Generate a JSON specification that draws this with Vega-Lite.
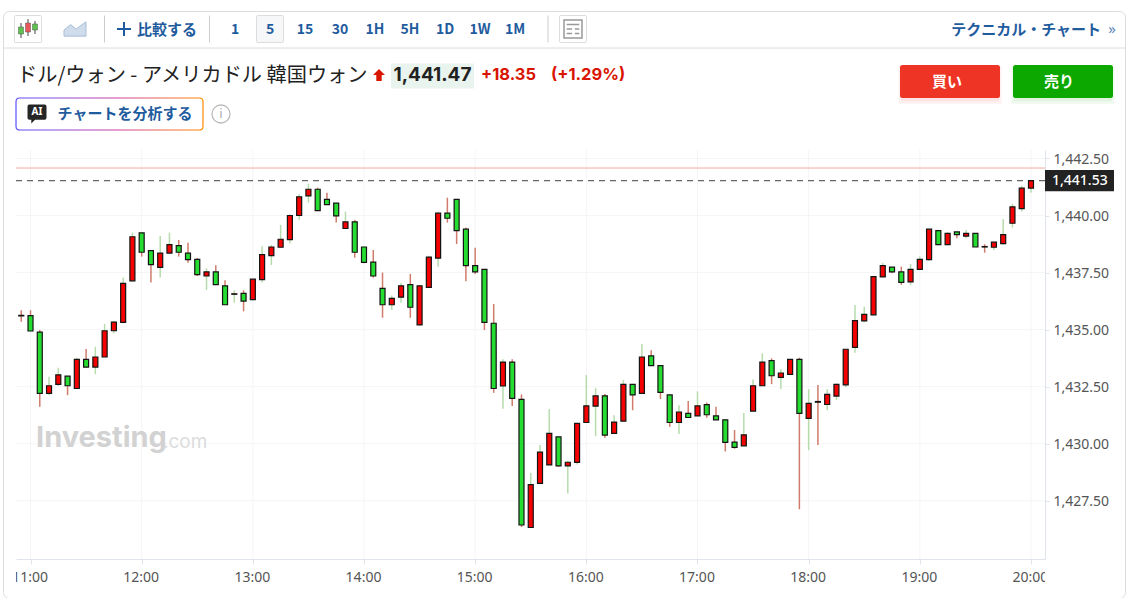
{"$schema":"https://vega.github.io/schema/vega-lite/v6.json","width":1122,"height":587,"padding":{"left":3,"top":11,"right":3,"bottom":0},"autosize":{"type":"none"},"background":"white","config":{"view":{"stroke":"#dcdcdc","cornerRadius":6},"font":"Noto Sans"},"datasets":{"candles":[
{"time":"2024-01-01T10:55:00Z","open":1435.62,"high":1435.85,"low":1435.35,"close":1435.60},
{"time":"2024-01-01T11:00:00Z","open":1435.61,"high":1435.85,"low":1434.94,"close":1434.94},
{"time":"2024-01-01T11:05:00Z","open":1434.89,"high":1434.98,"low":1431.62,"close":1432.21},
{"time":"2024-01-01T11:10:00Z","open":1432.21,"high":1432.93,"low":1432.13,"close":1432.54},
{"time":"2024-01-01T11:15:00Z","open":1432.60,"high":1433.33,"low":1432.53,"close":1433.02},
{"time":"2024-01-01T11:20:00Z","open":1432.96,"high":1432.96,"low":1432.13,"close":1432.54},
{"time":"2024-01-01T11:25:00Z","open":1432.42,"high":1433.77,"low":1432.42,"close":1433.70},
{"time":"2024-01-01T11:30:00Z","open":1433.70,"high":1434.15,"low":1433.34,"close":1433.36},
{"time":"2024-01-01T11:35:00Z","open":1433.36,"high":1434.25,"low":1433.05,"close":1433.80},
{"time":"2024-01-01T11:40:00Z","open":1433.80,"high":1435.25,"low":1433.80,"close":1434.95},
{"time":"2024-01-01T11:45:00Z","open":1434.95,"high":1435.39,"low":1434.84,"close":1435.33},
{"time":"2024-01-01T11:50:00Z","open":1435.32,"high":1437.28,"low":1435.28,"close":1437.03},
{"time":"2024-01-01T11:55:00Z","open":1437.14,"high":1439.25,"low":1437.10,"close":1439.07},
{"time":"2024-01-01T12:00:00Z","open":1439.24,"high":1439.24,"low":1438.20,"close":1438.39},
{"time":"2024-01-01T12:05:00Z","open":1438.46,"high":1438.49,"low":1437.06,"close":1437.85},
{"time":"2024-01-01T12:10:00Z","open":1437.73,"high":1439.10,"low":1437.28,"close":1438.35},
{"time":"2024-01-01T12:15:00Z","open":1438.35,"high":1439.25,"low":1438.35,"close":1438.72},
{"time":"2024-01-01T12:20:00Z","open":1438.68,"high":1438.93,"low":1438.20,"close":1438.39},
{"time":"2024-01-01T12:25:00Z","open":1438.35,"high":1438.81,"low":1437.93,"close":1438.07},
{"time":"2024-01-01T12:30:00Z","open":1438.08,"high":1438.14,"low":1437.35,"close":1437.41},
{"time":"2024-01-01T12:35:00Z","open":1437.35,"high":1437.69,"low":1436.74,"close":1437.53},
{"time":"2024-01-01T12:40:00Z","open":1437.53,"high":1437.82,"low":1436.96,"close":1436.97},
{"time":"2024-01-01T12:45:00Z","open":1436.92,"high":1437.16,"low":1436.08,"close":1436.09},
{"time":"2024-01-01T12:50:00Z","open":1436.55,"high":1436.72,"low":1436.18,"close":1436.57},
{"time":"2024-01-01T12:55:00Z","open":1436.59,"high":1436.72,"low":1435.80,"close":1436.25},
{"time":"2024-01-01T13:00:00Z","open":1436.31,"high":1437.21,"low":1436.29,"close":1437.21},
{"time":"2024-01-01T13:05:00Z","open":1437.19,"high":1438.65,"low":1437.06,"close":1438.29},
{"time":"2024-01-01T13:10:00Z","open":1438.24,"high":1438.71,"low":1437.83,"close":1438.62},
{"time":"2024-01-01T13:15:00Z","open":1438.61,"high":1439.59,"low":1438.58,"close":1438.96},
{"time":"2024-01-01T13:20:00Z","open":1438.94,"high":1440.06,"low":1438.77,"close":1440.00},
{"time":"2024-01-01T13:25:00Z","open":1440.00,"high":1440.93,"low":1439.81,"close":1440.82},
{"time":"2024-01-01T13:30:00Z","open":1440.86,"high":1441.39,"low":1440.57,"close":1441.15},
{"time":"2024-01-01T13:35:00Z","open":1441.15,"high":1441.22,"low":1440.21,"close":1440.21},
{"time":"2024-01-01T13:40:00Z","open":1440.71,"high":1441.00,"low":1440.48,"close":1440.48},
{"time":"2024-01-01T13:45:00Z","open":1440.54,"high":1440.54,"low":1439.69,"close":1439.98},
{"time":"2024-01-01T13:50:00Z","open":1439.43,"high":1440.17,"low":1439.43,"close":1439.72},
{"time":"2024-01-01T13:55:00Z","open":1439.72,"high":1439.81,"low":1438.15,"close":1438.39},
{"time":"2024-01-01T14:00:00Z","open":1438.62,"high":1438.62,"low":1437.91,"close":1437.95},
{"time":"2024-01-01T14:05:00Z","open":1437.96,"high":1438.49,"low":1437.28,"close":1437.35},
{"time":"2024-01-01T14:10:00Z","open":1436.81,"high":1437.50,"low":1435.52,"close":1436.09},
{"time":"2024-01-01T14:15:00Z","open":1436.09,"high":1436.50,"low":1435.86,"close":1436.37},
{"time":"2024-01-01T14:20:00Z","open":1436.42,"high":1437.04,"low":1436.18,"close":1436.92},
{"time":"2024-01-01T14:25:00Z","open":1436.97,"high":1437.44,"low":1435.52,"close":1435.98},
{"time":"2024-01-01T14:30:00Z","open":1435.21,"high":1436.96,"low":1435.18,"close":1436.92},
{"time":"2024-01-01T14:35:00Z","open":1436.85,"high":1438.24,"low":1436.85,"close":1438.18},
{"time":"2024-01-01T14:40:00Z","open":1438.13,"high":1440.14,"low":1437.76,"close":1440.10},
{"time":"2024-01-01T14:45:00Z","open":1440.10,"high":1440.78,"low":1439.69,"close":1439.88},
{"time":"2024-01-01T14:50:00Z","open":1440.71,"high":1440.71,"low":1438.75,"close":1439.34},
{"time":"2024-01-01T14:55:00Z","open":1439.40,"high":1439.47,"low":1437.12,"close":1437.80},
{"time":"2024-01-01T15:00:00Z","open":1437.80,"high":1438.59,"low":1437.44,"close":1437.53},
{"time":"2024-01-01T15:05:00Z","open":1437.64,"high":1437.64,"low":1434.98,"close":1435.32},
{"time":"2024-01-01T15:10:00Z","open":1435.28,"high":1436.12,"low":1432.23,"close":1432.42},
{"time":"2024-01-01T15:15:00Z","open":1432.53,"high":1433.70,"low":1431.53,"close":1433.58},
{"time":"2024-01-01T15:20:00Z","open":1433.58,"high":1433.70,"low":1431.65,"close":1431.99},
{"time":"2024-01-01T15:25:00Z","open":1431.94,"high":1432.16,"low":1426.35,"close":1426.44},
{"time":"2024-01-01T15:30:00Z","open":1426.33,"high":1428.72,"low":1426.33,"close":1428.21},
{"time":"2024-01-01T15:35:00Z","open":1428.26,"high":1429.94,"low":1428.26,"close":1429.63},
{"time":"2024-01-01T15:40:00Z","open":1429.07,"high":1431.52,"low":1429.07,"close":1430.45},
{"time":"2024-01-01T15:45:00Z","open":1430.30,"high":1430.30,"low":1428.99,"close":1429.03},
{"time":"2024-01-01T15:50:00Z","open":1429.03,"high":1429.25,"low":1427.82,"close":1429.19},
{"time":"2024-01-01T15:55:00Z","open":1429.18,"high":1430.89,"low":1429.09,"close":1430.89},
{"time":"2024-01-01T16:00:00Z","open":1430.93,"high":1433.01,"low":1430.93,"close":1431.66},
{"time":"2024-01-01T16:05:00Z","open":1431.65,"high":1432.45,"low":1430.33,"close":1432.10},
{"time":"2024-01-01T16:10:00Z","open":1432.10,"high":1432.18,"low":1430.26,"close":1430.38},
{"time":"2024-01-01T16:15:00Z","open":1430.45,"high":1431.25,"low":1430.45,"close":1430.95},
{"time":"2024-01-01T16:20:00Z","open":1430.99,"high":1432.79,"low":1430.99,"close":1432.60},
{"time":"2024-01-01T16:25:00Z","open":1432.60,"high":1432.60,"low":1431.47,"close":1432.14},
{"time":"2024-01-01T16:30:00Z","open":1432.21,"high":1434.37,"low":1432.21,"close":1433.80},
{"time":"2024-01-01T16:35:00Z","open":1433.85,"high":1434.10,"low":1433.42,"close":1433.42},
{"time":"2024-01-01T16:40:00Z","open":1433.42,"high":1433.42,"low":1431.96,"close":1432.25},
{"time":"2024-01-01T16:45:00Z","open":1432.14,"high":1432.14,"low":1430.74,"close":1430.93},
{"time":"2024-01-01T16:50:00Z","open":1430.93,"high":1431.69,"low":1430.43,"close":1431.39},
{"time":"2024-01-01T16:55:00Z","open":1431.33,"high":1431.87,"low":1431.15,"close":1431.15},
{"time":"2024-01-01T17:00:00Z","open":1431.22,"high":1432.29,"low":1431.22,"close":1431.66},
{"time":"2024-01-01T17:05:00Z","open":1431.71,"high":1431.81,"low":1431.14,"close":1431.27},
{"time":"2024-01-01T17:10:00Z","open":1431.22,"high":1431.62,"low":1431.05,"close":1431.05},
{"time":"2024-01-01T17:15:00Z","open":1431.05,"high":1431.05,"low":1429.66,"close":1430.06},
{"time":"2024-01-01T17:20:00Z","open":1430.07,"high":1430.60,"low":1429.78,"close":1429.84},
{"time":"2024-01-01T17:25:00Z","open":1429.91,"high":1431.35,"low":1429.91,"close":1430.39},
{"time":"2024-01-01T17:30:00Z","open":1431.43,"high":1432.82,"low":1431.43,"close":1432.54},
{"time":"2024-01-01T17:35:00Z","open":1432.54,"high":1433.96,"low":1432.54,"close":1433.58},
{"time":"2024-01-01T17:40:00Z","open":1433.64,"high":1433.74,"low":1432.61,"close":1432.98},
{"time":"2024-01-01T17:45:00Z","open":1432.91,"high":1433.26,"low":1432.39,"close":1433.10},
{"time":"2024-01-01T17:50:00Z","open":1433.04,"high":1433.70,"low":1433.04,"close":1433.70},
{"time":"2024-01-01T17:55:00Z","open":1433.70,"high":1433.77,"low":1427.13,"close":1431.33},
{"time":"2024-01-01T18:00:00Z","open":1431.11,"high":1432.39,"low":1429.72,"close":1431.77},
{"time":"2024-01-01T18:05:00Z","open":1431.85,"high":1432.57,"low":1429.94,"close":1431.82},
{"time":"2024-01-01T18:10:00Z","open":1431.72,"high":1432.39,"low":1431.47,"close":1432.16},
{"time":"2024-01-01T18:15:00Z","open":1432.09,"high":1432.64,"low":1431.91,"close":1432.60},
{"time":"2024-01-01T18:20:00Z","open":1432.58,"high":1434.14,"low":1432.47,"close":1434.14},
{"time":"2024-01-01T18:25:00Z","open":1434.22,"high":1436.08,"low":1433.99,"close":1435.39},
{"time":"2024-01-01T18:30:00Z","open":1435.38,"high":1436.00,"low":1435.32,"close":1435.67},
{"time":"2024-01-01T18:35:00Z","open":1435.65,"high":1437.32,"low":1435.61,"close":1437.32},
{"time":"2024-01-01T18:40:00Z","open":1437.31,"high":1437.93,"low":1437.31,"close":1437.80},
{"time":"2024-01-01T18:45:00Z","open":1437.74,"high":1437.74,"low":1437.47,"close":1437.53},
{"time":"2024-01-01T18:50:00Z","open":1437.53,"high":1437.76,"low":1436.96,"close":1437.07},
{"time":"2024-01-01T18:55:00Z","open":1437.09,"high":1437.88,"low":1436.96,"close":1437.64},
{"time":"2024-01-01T19:00:00Z","open":1437.64,"high":1438.20,"low":1437.64,"close":1438.08},
{"time":"2024-01-01T19:05:00Z","open":1438.07,"high":1439.40,"low":1438.01,"close":1439.40},
{"time":"2024-01-01T19:10:00Z","open":1439.34,"high":1439.34,"low":1438.70,"close":1438.72},
{"time":"2024-01-01T19:15:00Z","open":1438.72,"high":1439.27,"low":1438.70,"close":1439.22},
{"time":"2024-01-01T19:20:00Z","open":1439.28,"high":1439.28,"low":1439.00,"close":1439.16},
{"time":"2024-01-01T19:25:00Z","open":1439.10,"high":1439.37,"low":1439.00,"close":1439.22},
{"time":"2024-01-01T19:30:00Z","open":1439.22,"high":1439.22,"low":1438.62,"close":1438.62},
{"time":"2024-01-01T19:35:00Z","open":1438.64,"high":1438.74,"low":1438.37,"close":1438.62},
{"time":"2024-01-01T19:40:00Z","open":1438.61,"high":1438.85,"low":1438.49,"close":1438.83},
{"time":"2024-01-01T19:45:00Z","open":1438.77,"high":1439.85,"low":1438.72,"close":1439.16},
{"time":"2024-01-01T19:50:00Z","open":1439.66,"high":1440.51,"low":1439.47,"close":1440.38},
{"time":"2024-01-01T19:55:00Z","open":1440.30,"high":1441.30,"low":1440.17,"close":1441.20},
{"time":"2024-01-01T20:00:00Z","open":1441.20,"high":1441.56,"low":1441.00,"close":1441.53}
],"levels":[
{"level":"prev","price":1442.08,"from":"2024-01-01T10:52:10Z","to":"2024-01-01T20:07:34Z","label":"1,442.08"},
{"level":"last","price":1441.53,"from":"2024-01-01T10:52:10Z","to":"2024-01-01T20:07:34Z","label":"1,441.53"}
],"gridPrices":[
{"price":1427.5,"from":"2024-01-01T10:52:10Z","to":"2024-01-01T20:07:34Z"},
{"price":1430,"from":"2024-01-01T10:52:10Z","to":"2024-01-01T20:07:34Z"},
{"price":1432.5,"from":"2024-01-01T10:52:10Z","to":"2024-01-01T20:07:34Z"},
{"price":1435,"from":"2024-01-01T10:52:10Z","to":"2024-01-01T20:07:34Z"},
{"price":1437.5,"from":"2024-01-01T10:52:10Z","to":"2024-01-01T20:07:34Z"},
{"price":1440,"from":"2024-01-01T10:52:10Z","to":"2024-01-01T20:07:34Z"},
{"price":1442.5,"from":"2024-01-01T10:52:10Z","to":"2024-01-01T20:07:34Z"}
],"gridHours":[
{"time":"2024-01-01T11:00:00Z","bottom":1424.95,"top":1442.87},
{"time":"2024-01-01T12:00:00Z","bottom":1424.95,"top":1442.87},
{"time":"2024-01-01T13:00:00Z","bottom":1424.95,"top":1442.87},
{"time":"2024-01-01T14:00:00Z","bottom":1424.95,"top":1442.87},
{"time":"2024-01-01T15:00:00Z","bottom":1424.95,"top":1442.87},
{"time":"2024-01-01T16:00:00Z","bottom":1424.95,"top":1442.87},
{"time":"2024-01-01T17:00:00Z","bottom":1424.95,"top":1442.87},
{"time":"2024-01-01T18:00:00Z","bottom":1424.95,"top":1442.87},
{"time":"2024-01-01T19:00:00Z","bottom":1424.95,"top":1442.87},
{"time":"2024-01-01T20:00:00Z","bottom":1424.95,"top":1442.87}
]},
"resolve":{"scale":{"x":"independent","y":"independent"}},
"layer":[
{"layer":[
{"data":{"name":"gridHours"},"mark":{"type":"rule","stroke":"#f5f5f8","strokeWidth":1},"encoding":{"x":{"field":"time","type":"temporal","scale":{"type":"utc","domain":[1704106330000,1704139654000],"range":[13,1042],"nice":false,"padding":0},"axis":{"orient":"bottom","offset":-39,"title":null,"format":"%H:%M","values":[1704106800000,1704110400000,1704114000000,1704117600000,1704121200000,1704124800000,1704128400000,1704132000000,1704135600000,1704139200000],"labelFont":"Noto Sans","labelFontSize":14,"labelColor":"#555","labelPadding":6,"labelFlush":false,"labelOverlap":false,"labelOffset":-1,"domainColor":"#dfe3ee","tickColor":"#dfe3ee","tickSize":5,"grid":false}},"y":{"field":"bottom","type":"quantitative","scale":{"domain":[1424.95,1442.87],"range":[548,139],"nice":false,"zero":false},"axis":{"orient":"right","offset":-80,"title":null,"values":[1427.5,1430,1432.5,1435,1437.5,1440,1442.5],"format":",.2f","labelFont":"Noto Sans","labelFontSize":14,"labelColor":"#555","labelPadding":4,"labelFlush":false,"labelOverlap":false,"labelOffset":1,"domainColor":"#dfe3ee","tickColor":"#dfe3ee","tickSize":4,"grid":false}},"y2":{"field":"top"}}},
{"data":{"name":"gridPrices"},"mark":{"type":"rule","stroke":"#f5f5f8","strokeWidth":1},"encoding":{"x":{"field":"from","type":"temporal"},"x2":{"field":"to"},"y":{"field":"price","type":"quantitative"}}},
{"data":{"name":"levels"},"transform":[{"filter":"datum.level==='prev'"}],"mark":{"type":"rule","stroke":"#f5a9a3","strokeWidth":1},"encoding":{"x":{"field":"from","type":"temporal"},"x2":{"field":"to"},"y":{"field":"price","type":"quantitative"}}},
{"data":{"name":"levels"},"transform":[{"filter":"datum.level==='last'"}],"mark":{"type":"rule","stroke":"#666","strokeWidth":1.2,"strokeDash":[6,5]},"encoding":{"x":{"field":"from","type":"temporal"},"x2":{"field":"to"},"y":{"field":"price","type":"quantitative"}}},
{"data":{"name":"candles"},"mark":{"type":"rule","strokeWidth":1.5},"encoding":{"x":{"field":"time","type":"temporal"},"y":{"field":"low","type":"quantitative"},"y2":{"field":"high"},"color":{"condition":{"test":"datum.close>datum.open","value":"#b6dcab"},"value":"#d07b6b"}}},
{"data":{"name":"candles"},"mark":{"type":"bar","size":5,"stroke":"#141414","strokeWidth":1.2},"encoding":{"x":{"field":"time","type":"temporal"},"y":{"field":"open","type":"quantitative"},"y2":{"field":"close"},"color":{"condition":{"test":"datum.close>datum.open","value":"#f40000"},"value":"#25dc30"}}},
{"data":{"name":"levels"},"transform":[{"filter":"datum.level==='last'"}],"mark":{"type":"point","filled":true,"opacity":1,"fill":"#222","strokeWidth":0,"size":4761,"shape":"M0,-0.31H2V0.31H0Z"},"encoding":{"x":{"field":"to","type":"temporal"},"y":{"field":"price","type":"quantitative"}}},
{"data":{"name":"levels"},"transform":[{"filter":"datum.level==='last'"}],"mark":{"type":"text","align":"left","baseline":"middle","font":"Noto Sans","fontSize":14,"fontWeight":500,"fill":"#fff","xOffset":7},"encoding":{"x":{"field":"to","type":"temporal"},"y":{"field":"price","type":"quantitative"},"text":{"field":"label"}}}
]},
{"encoding":{"x":{"field":"slot","type":"nominal","axis":null,"scale":{"type":"point","padding":0,"range":[22,582],"domain":["candles","area","sep1","plus","compare","sep2","1","5","15","30","1H","5H","1D","1W","1M","sep3","news"]}},"y":{"field":"row","type":"nominal","axis":null,"scale":{"type":"point","padding":0,"range":[18,37],"domain":["tools","divider"]}}},"layer":[
{"data":{"values":[{"slot":"candles","row":"divider"}]},"mark":{"type":"point","filled":false,"opacity":1,"stroke":"#dcdcdc","strokeWidth":1,"size":1258884,"shape":"M-0.0392,0H1.9608"}},
{"data":{"values":[{"slot":"candles","row":"tools"}]},"mark":{"type":"point","filled":true,"opacity":1,"fill":"#fff","stroke":"#ddd","strokeWidth":1,"size":729,"xOffset":3,"shape":"M-0.9,-1H0.9Q1,-1 1,-0.9V0.9Q1,1 0.9,1H-0.9Q-1,1 -1,0.9V-0.9Q-1,-1 -0.9,-1Z"}},
{"data":{"values":[{"slot":"candles","row":"tools"}]},"mark":{"type":"point","filled":false,"opacity":1,"stroke":"#444","strokeWidth":1,"size":400,"xOffset":3,"shape":"M-0.7,-0.6V0.9M0,-1V0.7M0.7,-0.8V0.5"}},
{"data":{"values":[{"slot":"candles","row":"tools"}]},"mark":{"type":"point","filled":true,"opacity":1,"fill":"#5ec24f","stroke":"#555","strokeWidth":0.5,"size":400,"xOffset":3,"shape":"M-0.95,-0.2H-0.45V0.5H-0.95ZM0.45,-0.5H0.95V0.1H0.45Z"}},
{"data":{"values":[{"slot":"candles","row":"tools"}]},"mark":{"type":"point","filled":true,"opacity":1,"fill":"#e8585a","stroke":"#555","strokeWidth":0.5,"size":400,"xOffset":3,"shape":"M-0.25,-0.6H0.25V0.3H-0.25Z"}},
{"data":{"values":[{"slot":"area","row":"tools"}]},"mark":{"type":"point","filled":true,"opacity":1,"fill":"#cfdcec","stroke":"#a9bfd8","strokeWidth":1,"size":484,"xOffset":15,"shape":"M-1,0.65V0.1L-0.4,-0.4L0.1,0L1,-0.65V0.65Z"}},
{"data":{"values":[{"slot":"sep1","row":"tools"},{"slot":"sep2","row":"tools"}]},"mark":{"type":"point","filled":false,"opacity":1,"stroke":"#ccc","strokeWidth":1,"size":729,"xOffset":9.5,"shape":"M0,-1V1"}},
{"data":{"values":[{"slot":"sep3","row":"tools"}]},"mark":{"type":"point","filled":false,"opacity":1,"stroke":"#ccc","strokeWidth":1,"size":729,"xOffset":-2,"shape":"M0,-1V1"}},
{"data":{"values":[{"slot":"plus","row":"tools"}]},"mark":{"type":"point","filled":false,"opacity":1,"stroke":"#1f5c9e","strokeWidth":2,"size":196,"xOffset":-6,"shape":"M-1,0H1M0,-1V1"}},
{"data":{"values":[{"slot":"compare","row":"tools","label":"比較する"}]},"mark":{"type":"text","font":"Noto Sans CJK JP","fontWeight":"bold","fontSize":15,"fill":"#1f5c9e","xOffset":2,"yOffset":1},"encoding":{"text":{"field":"label"}}},
{"data":{"values":[{"slot":"5","row":"tools"}]},"mark":{"type":"point","filled":true,"opacity":1,"fill":"#f6f7f8","stroke":"#ddd","strokeWidth":1,"size":729,"shape":"M-0.9,-1H0.9Q1,-1 1,-0.9V0.9Q1,1 0.9,1H-0.9Q-1,1 -1,0.9V-0.9Q-1,-1 -0.9,-1Z"}},
{"data":{"values":[{"slot":"1","row":"tools"},{"slot":"5","row":"tools"},{"slot":"15","row":"tools"},{"slot":"30","row":"tools"},{"slot":"1H","row":"tools"},{"slot":"5H","row":"tools"},{"slot":"1D","row":"tools"},{"slot":"1W","row":"tools"},{"slot":"1M","row":"tools"}]},"mark":{"type":"text","font":"Noto Sans CJK JP","fontWeight":"bold","fontSize":14,"fill":"#1f5c9e","yOffset":1},"encoding":{"text":{"field":"slot"}}},
{"data":{"values":[{"slot":"news","row":"tools"}]},"mark":{"type":"point","filled":true,"opacity":1,"fill":"#fff","stroke":"#ddd","strokeWidth":1,"size":729,"xOffset":-12,"shape":"M-0.9,-1H0.9Q1,-1 1,-0.9V0.9Q1,1 0.9,1H-0.9Q-1,1 -1,0.9V-0.9Q-1,-1 -0.9,-1Z"}},
{"data":{"values":[{"slot":"news","row":"tools"}]},"mark":{"type":"point","filled":false,"opacity":1,"stroke":"#999","strokeWidth":1.5,"size":324,"xOffset":-12,"shape":"M-1,-1H1V1H-1ZM-0.7,-0.5H0.7M-0.7,0H-0.1M-0.7,0.5H-0.1M0.2,0H0.7M0.2,0.5H0.7"}}
]},
{"encoding":{"x":{"field":"col","type":"nominal","axis":null,"scale":{"type":"point","padding":0,"range":[22,1107],"domain":["c0","c1","c2","c3","c4","c5","c6","c7","c8","c9","c10","c11","c12","c13","c14","c15","c16","c17","c18","c19","c20","c21","c22","c23","c24","c25","c26","c27","c28","c29","c30","c31"]}},"y":{"field":"row","type":"nominal","axis":null,"scale":{"type":"point","padding":0,"range":[26,558],"domain":["tools","title","ai","r3","r4","r5","r6","r7","r8","r9","r10","watermark","r12","r13","xlabels"]}}},"layer":[
{"data":{"values":[{"col":"c31","row":"tools","label":"テクニカル・チャート"}]},"mark":{"type":"text","align":"right","yOffset":-7,"xOffset":-9,"font":"Noto Sans CJK JP","fontWeight":"bold","fontSize":15,"fill":"#1f5c9e"},"encoding":{"text":{"field":"label"}}},
{"data":{"values":[{"col":"c31","row":"tools","label":"»"}]},"mark":{"type":"text","align":"center","yOffset":-8,"xOffset":2,"font":"Noto Sans","fontSize":15,"fill":"#5f86b8"},"encoding":{"text":{"field":"label"}}},
{"data":{"values":[{"col":"c0","row":"title","label":"ドル/ウォン - アメリカドル 韓国ウォン"}]},"mark":{"type":"text","align":"left","xOffset":-8,"yOffset":1,"font":"Noto Sans CJK JP","fontSize":20.2,"fill":"#222"},"encoding":{"text":{"field":"label"}}},
{"data":{"values":[{"col":"c10","row":"title"}]},"mark":{"type":"point","filled":true,"opacity":1,"fill":"#d91400","strokeWidth":0,"size":144,"xOffset":4,"shape":"M0,-1L1,0H0.45V1H-0.45V0H-1Z"}},
{"data":{"values":[{"col":"c12","row":"title"}]},"mark":{"type":"point","filled":true,"opacity":1,"fill":"#e9f4ef","strokeWidth":0,"size":6889,"xOffset":-12.5,"yOffset":1,"shape":"M-1,-0.3H1V0.3H-1Z"}},
{"data":{"values":[{"col":"c12","row":"title","label":"1,441.47"}]},"mark":{"type":"text","xOffset":-12.5,"font":"Inter","fontWeight":"bold","fontSize":19,"fill":"#222"},"encoding":{"text":{"field":"label"}}},
{"data":{"values":[{"col":"c13","row":"title","label":"+18.35"},{"col":"c15","row":"title","label":"(+1.29%)"}]},"mark":{"type":"text","align":"left","xOffset":1,"font":"Inter","fontWeight":"bold","fontSize":16.5,"fill":"#d91400"},"encoding":{"text":{"field":"label"}}},
{"data":{"values":[{"col":"c26","row":"title"}]},"mark":{"type":"point","filled":true,"fill":"#ee3424","opacity":0.12,"stroke":"#ee3424","strokeWidth":5,"strokeOpacity":0.5,"size":9600,"xOffset":15,"yOffset":10,"shape":"M-1,-0.33H1V0.33H-1Z"}},
{"data":{"values":[{"col":"c29","row":"title"}]},"mark":{"type":"point","filled":true,"fill":"#0ca800","opacity":0.12,"stroke":"#0ca800","strokeWidth":5,"strokeOpacity":0.5,"size":9600,"xOffset":23,"yOffset":10,"shape":"M-1,-0.33H1V0.33H-1Z"}},
{"data":{"values":[{"col":"c26","row":"title"}]},"mark":{"type":"point","filled":true,"opacity":1,"fill":"#ee3424","strokeWidth":0,"size":10000,"xOffset":15,"yOffset":6.5,"shape":"M-0.95,-0.33H0.95Q1,-0.33 1,-0.28V0.28Q1,0.33 0.95,0.33H-0.95Q-1,0.33 -1,0.28V-0.28Q-1,-0.33 -0.95,-0.33Z"}},
{"data":{"values":[{"col":"c29","row":"title"}]},"mark":{"type":"point","filled":true,"opacity":1,"fill":"#0ca800","strokeWidth":0,"size":10000,"xOffset":23,"yOffset":6.5,"shape":"M-0.95,-0.33H0.95Q1,-0.33 1,-0.28V0.28Q1,0.33 0.95,0.33H-0.95Q-1,0.33 -1,0.28V-0.28Q-1,-0.33 -0.95,-0.33Z"}},
{"data":{"values":[{"col":"c26","row":"title","label":"買い"}]},"mark":{"type":"text","xOffset":12,"yOffset":7,"font":"Noto Sans CJK JP","fontWeight":"bold","fontSize":15,"fill":"#fff"},"encoding":{"text":{"field":"label"}}},
{"data":{"values":[{"col":"c29","row":"title","label":"売り"}]},"mark":{"type":"text","xOffset":19,"yOffset":7,"font":"Noto Sans CJK JP","fontWeight":"bold","fontSize":15,"fill":"#fff"},"encoding":{"text":{"field":"label"}}},
{"data":{"values":[{"col":"c2","row":"ai"}]},"mark":{"type":"point","filled":true,"opacity":1,"fill":"#fff","stroke":{"gradient":"linear","x1":0,"x2":1,"y1":0,"y2":0,"stops":[{"offset":0,"color":"#5a4fff"},{"offset":0.55,"color":"#d0409f"},{"offset":1,"color":"#ff8a00"}]},"strokeWidth":1.2,"size":34969,"xOffset":14.5,"yOffset":1,"shape":"M-0.96,-0.171H0.96Q1,-0.171 1,-0.13V0.13Q1,0.171 0.96,0.171H-0.96Q-1,0.171 -1,0.13V-0.13Q-1,-0.171 -0.96,-0.171Z"}},
{"data":{"values":[{"col":"c0","row":"ai"}]},"mark":{"type":"point","filled":true,"opacity":1,"fill":"#262626","strokeWidth":0,"size":361,"xOffset":12,"yOffset":1,"shape":"M-0.8,-1H0.8Q1,-1 1,-0.8V0.4Q1,0.6 0.8,0.6H-0.2L-0.6,1V0.6H-0.8Q-1,0.6 -1,0.4V-0.8Q-1,-1 -0.8,-1Z"}},
{"data":{"values":[{"col":"c0","row":"ai","label":"AI"}]},"mark":{"type":"text","xOffset":12,"yOffset":-1,"font":"Noto Sans","fontWeight":"bold","fontSize":10,"fill":"#fff"},"encoding":{"text":{"field":"label"}}},
{"data":{"values":[{"col":"c3","row":"ai","label":"チャートを分析する"}]},"mark":{"type":"text","xOffset":-5,"yOffset":1,"font":"Noto Sans CJK JP","fontWeight":"bold","fontSize":15,"fill":"#1f5c9e"},"encoding":{"text":{"field":"label"}}},
{"data":{"values":[{"col":"c5","row":"ai"}]},"mark":{"type":"point","filled":false,"opacity":1,"stroke":"#bbb","strokeWidth":1.3,"size":324,"shape":"circle","xOffset":21,"yOffset":1}},
{"data":{"values":[{"col":"c5","row":"ai","label":"i"}]},"mark":{"type":"text","xOffset":21,"yOffset":1,"font":"Noto Sans","fontSize":13,"fill":"#aaa"},"encoding":{"text":{"field":"label"}}},
{"data":{"values":[{"col":"c0","row":"watermark","label":"Investing"}]},"mark":{"type":"text","align":"left","xOffset":11,"yOffset":-17,"font":"Inter","fontWeight":"bold","fontSize":29,"fill":"#d2d2d2"},"encoding":{"text":{"field":"label"}}},
{"data":{"values":[{"col":"c4","row":"watermark","label":".com"}]},"mark":{"type":"text","align":"left","xOffset":-2,"yOffset":-13,"font":"Inter","fontSize":19,"fill":"#dcdcdc"},"encoding":{"text":{"field":"label"}}},
{"data":{"values":[{"col":"c0","row":"xlabels"}]},"mark":{"type":"point","filled":true,"opacity":1,"fill":"#fff","strokeWidth":0,"size":484,"xOffset":-15,"yOffset":9,"shape":"M-0.54,-1H0.54V1H-0.54Z"}},
{"data":{"values":[{"col":"c29","row":"xlabels"}]},"mark":{"type":"point","filled":true,"opacity":1,"fill":"#fff","strokeWidth":0,"size":484,"xOffset":11,"yOffset":9,"shape":"M-0.54,-1H0.54V1H-0.54Z"}}
]}
]}
